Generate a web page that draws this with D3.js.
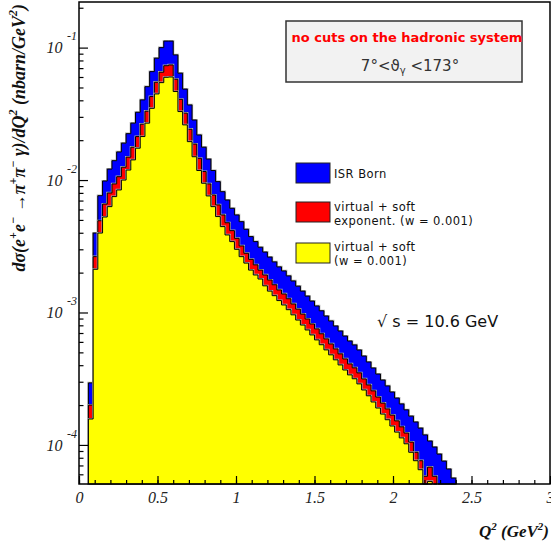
<!DOCTYPE html>
<html>
<head>
<meta charset="utf-8">
<script src="https://d3js.org/d3.v7.min.js"></script>
<style>
    body { margin: 0; background: #fff; }
    svg { display: block; }
    .tick line { stroke: #000; stroke-width: 1.2; }
    .tick text { font-family: "Liberation Serif", serif; font-style: italic; font-size: 16px; fill: #222; }
</style>
</head>
<body>
<svg width="551" height="545"></svg>
<script>
// histogram bins: 0.03 GeV^2 wide, first filled bin starts at 0.06
const binStart = 0.06
const binWidth = 0.03

// ISR Born
const isrBorn = [
    2.94e-4, 3.98e-3, 7.62e-3, 9.84e-3, 1.21e-2, 1.40e-2, 1.63e-2, 1.90e-2, 2.24e-2, 2.69e-2,
    3.25e-2, 4.03e-2, 5.07e-2, 6.59e-2, 8.32e-2, 1.00e-1, 1.12e-1, 1.12e-1, 8.81e-2, 6.41e-2,
    4.86e-2, 3.69e-2, 2.84e-2, 2.19e-2, 1.77e-2, 1.44e-2, 1.18e-2, 9.73e-3, 8.17e-3, 7.07e-3,
    6.12e-3, 5.45e-3, 4.85e-3, 4.25e-3, 3.74e-3, 3.43e-3, 3.11e-3, 2.86e-3, 2.62e-3, 2.41e-3,
    2.21e-3, 2.06e-3, 1.89e-3, 1.73e-3, 1.58e-3, 1.45e-3, 1.33e-3, 1.22e-3, 1.12e-3, 1.03e-3,
    9.41e-4, 8.63e-4, 7.91e-4, 7.25e-4, 6.64e-4, 6.09e-4, 5.69e-4, 5.21e-4, 4.69e-4, 4.23e-4,
    3.81e-4, 3.43e-4, 3.09e-4, 2.79e-4, 2.51e-4, 2.26e-4, 2.04e-4, 1.84e-4, 1.65e-4, 1.49e-4,
    1.34e-4, 1.19e-4, 1.07e-4, 9.64e-5, 8.53e-5, 7.55e-5, 6.58e-5, 5.62e-5
]

// virtual + soft, exponentiated (w = 0.001)
const softExpon = [
    2.00e-4, 2.64e-3, 4.93e-3, 6.59e-3, 7.99e-3, 9.35e-3, 1.06e-2, 1.25e-2, 1.49e-2, 1.77e-2,
    2.13e-2, 2.64e-2, 3.31e-2, 4.27e-2, 5.48e-2, 6.52e-2, 7.30e-2, 7.40e-2, 5.77e-2, 4.07e-2,
    3.20e-2, 2.42e-2, 1.87e-2, 1.46e-2, 1.16e-2, 9.35e-3, 7.71e-3, 6.49e-3, 5.45e-3, 4.76e-3,
    4.15e-3, 3.63e-3, 3.18e-3, 2.80e-3, 2.52e-3, 2.29e-3, 2.09e-3, 1.92e-3, 1.76e-3, 1.62e-3,
    1.48e-3, 1.38e-3, 1.27e-3, 1.16e-3, 1.06e-3, 9.73e-4, 8.93e-4, 8.19e-4, 7.52e-4, 6.91e-4,
    6.32e-4, 5.79e-4, 5.31e-4, 4.87e-4, 4.46e-4, 4.09e-4, 3.82e-4, 3.50e-4, 3.15e-4, 2.84e-4,
    2.56e-4, 2.30e-4, 2.07e-4, 1.87e-4, 1.68e-4, 1.52e-4, 1.37e-4, 1.23e-4, 1.05e-4, 8.8e-5,
    7.6e-5, 5.8e-5, 6.8e-5, 5.8e-5
]

// virtual + soft (w = 0.001)
const softPlain = [
    1.57e-4, 2.12e-3, 3.98e-3, 5.26e-3, 6.30e-3, 7.50e-3, 8.42e-3, 1.00e-2, 1.19e-2, 1.42e-2,
    1.74e-2, 2.13e-2, 2.69e-2, 3.48e-2, 4.47e-2, 5.44e-2, 5.97e-2, 6.00e-2, 4.66e-2, 3.29e-2,
    2.61e-2, 1.95e-2, 1.50e-2, 1.18e-2, 9.46e-3, 7.59e-3, 6.30e-3, 5.30e-3, 4.45e-3, 3.85e-3,
    3.43e-3, 3.00e-3, 2.64e-3, 2.36e-3, 2.09e-3, 1.92e-3, 1.79e-3, 1.59e-3, 1.45e-3, 1.34e-3,
    1.23e-3, 1.14e-3, 1.05e-3, 9.60e-4, 8.77e-4, 8.04e-4, 7.38e-4, 6.77e-4, 6.21e-4, 5.71e-4,
    5.22e-4, 4.79e-4, 4.39e-4, 4.02e-4, 3.68e-4, 3.38e-4, 3.16e-4, 2.89e-4, 2.60e-4, 2.35e-4,
    2.11e-4, 1.90e-4, 1.71e-4, 1.55e-4, 1.39e-4, 1.25e-4, 1.13e-4, 1.02e-4, 8.8e-5, 7.6e-5,
    6.5e-5, 0, 5.3e-5
]

const series = [
    { name: "ISR Born", values: isrBorn, color: "#0000ff" },
    { name: "expon", values: softExpon, color: "#ff0000" },
    { name: "plain", values: softPlain, color: "#ffff00" },
]

const xTicks = [0, 0.5, 1, 1.5, 2, 2.5, 3]
const xMinor = d3.range(0, 31).map(d => d / 10)
const yMajor = [1e-4, 1e-3, 1e-2, 1e-1]

const svg = d3.select("svg")
const fLeft = 79, fRight = 550, fTop = 2, fBottom = 484

const x = d3.scaleLinear().domain([0, 3]).range([fLeft, fRight])
const y = d3.scaleLog().domain([5.07e-5, 0.221]).range([fBottom, fTop])

const yMinor = []
d3.range(-5, 0).forEach(e => {
    d3.range(2, 10).forEach(k => {
        const v = k * Math.pow(10, e)
        if (v >= y.domain()[0] && v <= y.domain()[1]) yMinor.push(v)
    })
})

// step path for one histogram
const stepPath = vals => {
    const yv = v => v > 0 ? y(Math.max(v, y.domain()[0])) : fBottom
    let p = "M" + x(binStart) + "," + fBottom
    vals.forEach((v, i) => {
        const x0 = x(binStart + i * binWidth), x1 = x(binStart + (i + 1) * binWidth)
        p += "L" + x0 + "," + yv(v) + "L" + x1 + "," + yv(v)
    })
    p += "L" + x(binStart + vals.length * binWidth) + "," + fBottom + "Z"
    return p
}

const hist = svg.append("g")
series.forEach(s => {
    hist.append("path")
        .attr("d", stepPath(s.values))
        .attr("fill", "none")
        .attr("stroke", "#aaa")
        .attr("stroke-width", 2.2)
    hist.append("path")
        .attr("d", stepPath(s.values))
        .attr("fill", s.color)
        .attr("stroke", "#000")
        .attr("stroke-width", 1)
})

// frame
svg.append("rect")
    .attr("x", fLeft).attr("y", fTop)
    .attr("width", fRight - fLeft).attr("height", fBottom - fTop)
    .attr("fill", "none").attr("stroke", "#000").attr("stroke-width", 1.5)

// x axis
const gx = svg.append("g").attr("transform", `translate(0,${fBottom})`)
gx.call(d3.axisBottom(x).tickValues(xTicks).tickSize(-8).tickPadding(8).tickFormat(d => d))
gx.select(".domain").remove()
const gxm = svg.append("g").attr("transform", `translate(0,${fBottom})`)
gxm.call(d3.axisBottom(x).tickValues(xMinor).tickSize(-4).tickFormat(""))
gxm.select(".domain").remove()

// y axis
const gy = svg.append("g").attr("transform", `translate(${fLeft},0)`)
gy.call(d3.axisLeft(y).tickValues(yMajor).tickSize(-9).tickPadding(2).tickFormat(() => "10"))
gy.select(".domain").remove()
gy.selectAll(".tick text").each(function (d) {
    d3.select(this).append("tspan")
        .attr("dx", 4.5).attr("dy", -13)
        .attr("font-size", 12)
        .text("-" + Math.round(-Math.log10(d)))
})
const gym = svg.append("g").attr("transform", `translate(${fLeft},0)`)
gym.call(d3.axisLeft(y).tickValues(yMinor).tickSize(-4.5).tickFormat(""))
gym.select(".domain").remove()

// axis titles
const serif = "'Liberation Serif', serif"
const xt = svg.append("text")
    .attr("x", 549).attr("y", 537)
    .attr("text-anchor", "end")
    .style("font-family", serif).style("font-style", "italic").style("font-weight", "bold")
    .style("font-size", "17px").attr("fill", "#111")
xt.append("tspan").text("Q")
xt.append("tspan").attr("dy", -7).attr("font-size", 11).text("2")
xt.append("tspan").attr("dy", 7).text(" (GeV")
xt.append("tspan").attr("dy", -7).attr("font-size", 11).text("2")
xt.append("tspan").attr("dy", 7).text(")")

// y title is right-aligned to the top of the axis, as ROOT does
const yt = svg.append("text")
    .attr("transform", "translate(25,4) rotate(-90)")
    .attr("text-anchor", "end")
    .style("font-family", serif).style("font-style", "italic").style("font-weight", "bold")
    .style("font-size", "18px").attr("fill", "#111")
const ytParts = [
    ["dσ(e", 0], ["+", 1], ["e", 0], ["−", 1], [" →π", 0], ["+", 1], ["π", 0], ["−", 1],
    [" γ)/dQ", 0], ["2", 1], [" (nbarn/GeV", 0], ["2", 1], [")", 0]
]
let raised = false
ytParts.forEach(([t, sup]) => {
    const ts = yt.append("tspan").text(t)
    if (sup && !raised) { ts.attr("dy", -8).attr("font-size", 12); raised = true }
    else if (sup) { ts.attr("font-size", 12) }
    else if (raised) { ts.attr("dy", 8); raised = false }
})

// info box
const sans = "'DejaVu Sans', sans-serif"
svg.append("rect")
    .attr("x", 286).attr("y", 21).attr("width", 236).attr("height", 61)
    .attr("fill", "#f2f2f2").attr("stroke", "#333").attr("stroke-width", 1.5)
svg.append("text")
    .attr("x", 407).attr("y", 42).attr("text-anchor", "middle")
    .style("font-family", sans).style("font-weight", "bold").style("font-size", "13px")
    .attr("fill", "#ff0000").text("no cuts on the hadronic system")
const ang = svg.append("text")
    .attr("x", 410).attr("y", 71).attr("text-anchor", "middle")
    .style("font-family", sans).style("font-size", "15px").attr("fill", "#333")
ang.append("tspan").text("7°<ϑ")
ang.append("tspan").attr("dy", 3).attr("font-size", 10).text("γ")
ang.append("tspan").attr("dy", -3).text(" <173°")

// legend
const legend = [
    { color: "#0000ff", y: 163, lines: [["ISR Born", 178]] },
    { color: "#ff0000", y: 202, lines: [["virtual + soft", 211], ["exponent. (w = 0.001)", 224.5]] },
    { color: "#ffff00", y: 243, lines: [["virtual + soft", 251], ["(w = 0.001)", 264.5]] },
]
legend.forEach(l => {
    svg.append("rect")
        .attr("x", 296).attr("y", l.y).attr("width", 34).attr("height", 20)
        .attr("fill", l.color).attr("stroke", "#222").attr("stroke-width", 1)
    l.lines.forEach(([t, ty]) => {
        svg.append("text")
            .attr("x", 334).attr("y", ty)
            .style("font-family", sans).style("font-size", "11.5px")
            .style("letter-spacing", "0.45px").attr("fill", "#111")
            .text(t)
    })
})

svg.append("text")
    .attr("x", 377).attr("y", 327)
    .style("font-family", sans).style("font-size", "16px").attr("fill", "#111")
    .text("√ s = 10.6 GeV")
</script>
</body>
</html>
